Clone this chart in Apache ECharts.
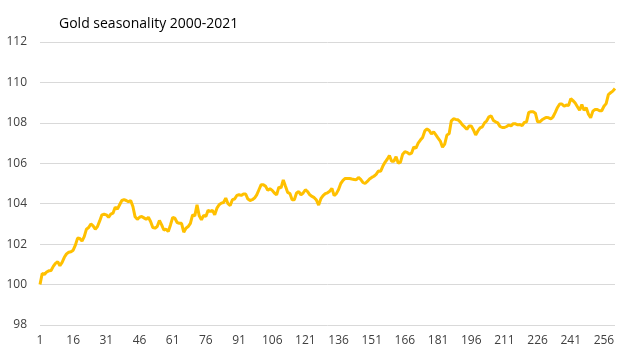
<!DOCTYPE html>
<html><head><meta charset="utf-8">
<script src="https://cdn.jsdelivr.net/npm/echarts@6/dist/echarts.min.js"></script>
<style>html,body{margin:0;padding:0;background:#fff}#c{width:635px;height:357px}</style>
</head><body><div id="c"></div>
<script>
const titleText = "Gold seasonality 2000-2021";
const yTicks = {min: 98, max: 112, step: 2};
const values = [
100.0,100.55,100.5,100.62,100.68,100.7,100.9,101.05,101.13,100.93,
101.1,101.35,101.52,101.6,101.62,101.7,101.95,102.3,102.28,102.15,
102.37,102.74,102.82,103.0,102.9,102.74,102.87,103.15,103.45,103.48,
103.45,103.33,103.48,103.53,103.83,103.73,103.95,104.16,104.2,104.16,
104.1,104.16,103.86,103.35,103.23,103.33,103.37,103.3,103.23,103.33,
103.12,102.82,102.79,102.87,103.17,102.95,102.7,102.74,102.62,102.95,
103.32,103.28,103.07,103.03,103.03,102.59,102.79,102.87,103.03,103.45,
103.4,103.95,103.4,103.2,103.42,103.37,103.67,103.62,103.67,103.45,
103.78,103.95,104.03,104.06,104.28,104.0,103.91,104.2,104.23,104.41,
104.44,104.41,104.48,104.48,104.23,104.16,104.2,104.28,104.44,104.69,
104.94,104.94,104.86,104.66,104.74,104.66,104.53,104.44,104.82,104.78,
105.18,104.86,104.56,104.5,104.2,104.2,104.53,104.6,104.44,104.53,
104.69,104.6,104.44,104.36,104.3,104.18,103.93,104.25,104.4,104.5,
104.54,104.62,104.76,104.4,104.5,104.7,105.0,105.15,105.25,105.25,
105.25,105.22,105.2,105.18,105.3,105.2,105.05,105.0,105.1,105.22,
105.3,105.36,105.45,105.62,105.6,105.85,106.05,106.2,106.38,106.1,
106.1,106.33,106.0,106.06,106.45,106.57,106.54,106.45,106.5,106.8,
106.75,107.0,107.15,107.28,107.6,107.7,107.62,107.45,107.55,107.4,
107.25,107.1,106.8,106.95,107.4,107.46,108.1,108.2,108.17,108.15,
108.05,107.9,107.8,107.68,107.84,107.85,107.65,107.4,107.6,107.75,
107.8,108.0,108.1,108.3,108.35,108.12,108.05,108.0,107.82,107.77,
107.77,107.82,107.89,107.85,107.96,107.95,107.9,107.92,107.86,108.02,
108.05,108.52,108.55,108.55,108.48,108.05,108.05,108.15,108.22,108.27,
108.25,108.2,108.3,108.52,108.76,108.93,108.93,108.82,108.88,108.85,
109.2,109.1,108.98,108.8,108.62,108.9,108.62,108.75,108.43,108.25,
108.58,108.66,108.66,108.6,108.6,108.82,108.95,109.4,109.49,109.57,
109.7
];
const categories = values.map((_, i) => String(i + 1));

const chart = echarts.init(document.getElementById('c'), null, {renderer: 'canvas'});
chart.setOption({
  animation: false,
  backgroundColor: '#ffffff',
  title: {
    text: titleText, left: 54, top: 12,
    textStyle: {fontFamily: 'Open Sans', fontSize: 14, fontWeight: 'normal', color: '#000000'}
  },
  grid: {left: 40, right: 20, top: 42, bottom: 32, containLabel: false},
  xAxis: {
    type: 'category', data: categories, boundaryGap: false,
    axisLine: {show: false}, axisTick: {show: false},
    axisLabel: {interval: 14, color: '#404040', fontFamily: 'Open Sans', fontSize: 12, margin: 10},
    splitLine: {show: false}
  },
  yAxis: {
    type: 'value', min: yTicks.min, max: yTicks.max, interval: yTicks.step,
    axisLine: {show: false}, axisTick: {show: false},
    axisLabel: {color: '#404040', fontFamily: 'Open Sans', fontSize: 12, margin: 13},
    splitLine: {lineStyle: {color: '#d9d9d9', width: 1}}
  },
  series: [{
    type: 'line', data: values, showSymbol: false, symbol: 'none',
    lineStyle: {color: '#FFC000', width: 3}, itemStyle: {color: '#FFC000'}
  }]
});
</script></body></html>
